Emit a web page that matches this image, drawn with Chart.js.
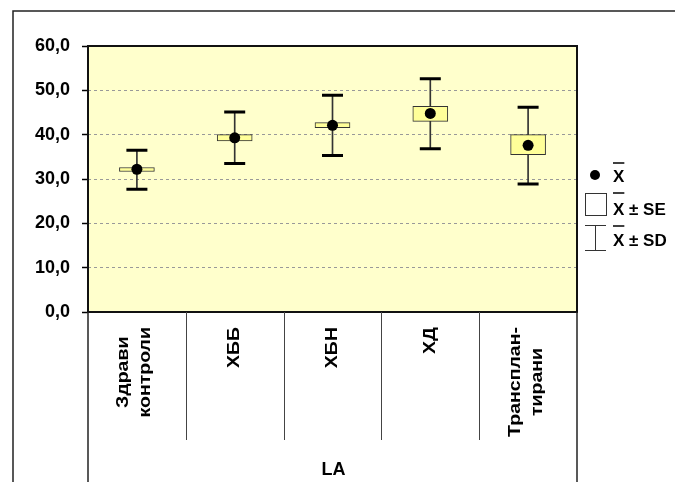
<!DOCTYPE html>
<html>
<head>
<meta charset="utf-8">
<script src="https://cdn.jsdelivr.net/npm/chart.js@4"></script>
<style>
  html, body { margin: 0; padding: 0; background: #fff; overflow: hidden; }
  #wrap { position: absolute; left: 0; top: 0; width: 675px; height: 482px; }
</style>
</head>
<body>
<div id="wrap"><canvas id="c" width="675" height="482"></canvas></div>
<script>
// Groups (multi-line names are stacked side by side when rotated)
const categories = [['Здрави', 'контроли'], ['ХББ'], ['ХБН'], ['ХД'], ['Трансплан-', 'тирани']];
const axisTitle = 'LA';

// Mean, mean ± SE (box) and mean ± SD (whiskers)
const meanValues = [32.2, 39.3, 42.1, 44.8, 37.6];
const seLow      = [31.7, 38.6, 41.6, 43.0, 35.5];
const seHigh     = [32.6, 40.0, 42.7, 46.4, 40.0];
const sdLow      = [27.7, 33.5, 35.3, 36.8, 28.9];
const sdHigh     = [36.5, 45.1, 48.9, 52.6, 46.2];

const yTickLabels = ['0,0', '10,0', '20,0', '30,0', '40,0', '50,0', '60,0'];

const legendLabels = ['X', 'X ± SE', 'X ± SD'];

const FONT = "'Liberation Sans', Arial, sans-serif";

const decorations = {
  id: 'decorations',
  beforeDraw(chart) {
    const { ctx, chartArea: a } = chart;
    ctx.save();
    ctx.fillStyle = '#FFFFCC';
    ctx.fillRect(a.left, a.top, a.right - a.left, a.bottom - a.top);
    ctx.restore();
  },
  afterDraw(chart) {
    const { ctx, chartArea: a, width, height } = chart;
    const xs = chart.scales.x;
    const n = categories.length;
    ctx.save();

    // plot box
    ctx.strokeStyle = '#111';
    ctx.lineWidth = 2;
    ctx.strokeRect(a.left, a.top, a.right - a.left, a.bottom - a.top);

    // category band separators
    ctx.strokeStyle = '#444';
    ctx.lineWidth = 1;
    for (let i = 1; i < n; i++) {
      const bx = Math.round((xs.getPixelForValue(i - 1) + xs.getPixelForValue(i)) / 2) + 0.5;
      ctx.beginPath();
      ctx.moveTo(bx, a.bottom);
      ctx.lineTo(bx, a.bottom + 128);
      ctx.stroke();
    }
    ctx.strokeStyle = '#222';
    ctx.lineWidth = 1.5;
    [a.left, a.right].forEach((bx) => {
      ctx.beginPath();
      ctx.moveTo(bx, a.bottom);
      ctx.lineTo(bx, height);
      ctx.stroke();
    });

    // rotated category names
    ctx.fillStyle = '#000';
    ctx.font = 'bold 16px ' + FONT;
    ctx.textAlign = 'center';
    ctx.textBaseline = 'middle';
    const stretch = 1.22, pitch = 22, labelTop = a.bottom + 15;
    categories.forEach((lines, i) => {
      const cx = xs.getPixelForValue(i) - (lines.length > 1 ? 2 : 0);
      const maxW = Math.max(...lines.map((t) => ctx.measureText(t).width)) * stretch;
      const cy = labelTop + maxW / 2;
      lines.forEach((t, j) => {
        const off = (j - (lines.length - 1) / 2) * pitch;
        ctx.save();
        ctx.translate(cx + off, cy);
        ctx.rotate(-Math.PI / 2);
        ctx.scale(stretch, 1);
        ctx.fillText(t, 0, 0);
        ctx.restore();
      });
    });

    // axis title
    ctx.font = 'bold 18px ' + FONT;
    ctx.textBaseline = 'alphabetic';
    ctx.fillText(axisTitle, (a.left + a.right) / 2 + 1, 475);

    // legend
    const lx = a.right + 8;
    ctx.fillStyle = '#000';
    ctx.beginPath();
    ctx.arc(lx + 10, 175, 5, 0, Math.PI * 2);
    ctx.fill();

    ctx.strokeStyle = '#333';
    ctx.lineWidth = 1;
    ctx.strokeRect(lx + 0.5, 193.5, 21, 22);

    ctx.beginPath();
    ctx.moveTo(lx, 225.5); ctx.lineTo(lx + 21, 225.5);
    ctx.moveTo(lx + 10.5, 225.5); ctx.lineTo(lx + 10.5, 250.5);
    ctx.moveTo(lx, 250.5); ctx.lineTo(lx + 21, 250.5);
    ctx.stroke();

    ctx.font = 'bold 17px ' + FONT;
    ctx.textAlign = 'left';
    const tx = lx + 28;
    const rows = [[182, 163], [215, 193], [246, 226]];
    rows.forEach(([base, bar], k) => {
      ctx.fillText(legendLabels[k], tx, base);
      const xw = ctx.measureText('X').width;
      ctx.lineWidth = 1.5;
      ctx.strokeStyle = '#000';
      ctx.beginPath();
      ctx.moveTo(tx, bar);
      ctx.lineTo(tx + xw, bar);
      ctx.stroke();
    });

    // outer frame
    ctx.strokeStyle = '#222';
    ctx.lineWidth = 1.5;
    ctx.beginPath();
    ctx.moveTo(13, height);
    ctx.lineTo(13, 11);
    ctx.lineTo(width, 11);
    ctx.stroke();

    ctx.restore();
  }
};

const capStyle = {
  type: 'line', showLine: false, pointStyle: 'line', pointRadius: 10.5, pointHoverRadius: 10.5,
  pointBorderWidth: 3, pointBorderColor: '#000', borderColor: '#000', order: 2
};

new Chart(document.getElementById('c'), {
  type: 'bar',
  data: {
    labels: categories.map((c) => c.join(' ')),
    datasets: [
      {
        label: 'SD',
        data: sdLow.map((v, i) => [v, sdHigh[i]]),
        backgroundColor: '#333', barThickness: 1, grouped: false, order: 4
      },
      {
        label: 'SE',
        data: seLow.map((v, i) => [v, seHigh[i]]),
        backgroundColor: '#FFFF99', borderColor: '#333', borderWidth: 1,
        borderSkipped: false, barThickness: 35, grouped: false, order: 3
      },
      Object.assign({ label: 'SD high', data: sdHigh }, capStyle),
      Object.assign({ label: 'SD low', data: sdLow }, capStyle),
      {
        type: 'line', label: 'Mean', data: meanValues, showLine: false,
        pointStyle: 'circle', pointRadius: 5.5, pointHoverRadius: 5.5,
        pointBackgroundColor: '#000', pointBorderWidth: 0, borderColor: '#000', order: 1
      }
    ]
  },
  options: {
    responsive: false,
    animation: false,
    events: [],
    layout: { padding: { top: 46, right: 98, left: 0, bottom: 0 } },
    plugins: { legend: { display: false }, tooltip: { enabled: false } },
    scales: {
      x: {
        offset: true,
        grid: { display: false },
        border: { display: false },
        ticks: { display: false },
        afterFit: (s) => { s.height = 170; }
      },
      y: {
        min: 0, max: 60,
        ticks: {
          stepSize: 10, padding: 12, color: '#000',
          font: { family: FONT, size: 18, weight: 'bold' },
          callback: (v, i) => yTickLabels[i]
        },
        grid: {
          color: (c) => (c.tick && (c.tick.value === 0 || c.tick.value === 60)) ? 'rgba(0,0,0,0)' : '#999',
          lineWidth: 1, drawTicks: true, tickLength: 6, tickColor: '#000', tickWidth: 1.5, tickBorderDash: []
        },
        border: { display: false, dash: [3, 3] },
        afterFit: (s) => { s.width = 88; }
      }
    }
  },
  plugins: [decorations]
});
</script>
</body>
</html>
